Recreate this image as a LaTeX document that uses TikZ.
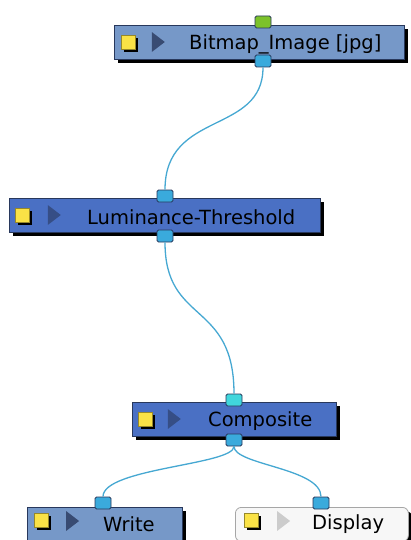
\documentclass[tikz,border=0pt]{standalone}
\usepackage{fontspec}
\setmainfont{DejaVu Sans}
\usetikzlibrary{positioning,shadows,shapes.geometric}

\definecolor{lightnode}{RGB}{118,152,200}
\definecolor{darknode}{RGB}{74,112,196}
\definecolor{nodeedge}{RGB}{40,56,92}
\definecolor{portblue}{RGB}{58,170,220}
\definecolor{portgreen}{RGB}{124,194,42}
\definecolor{portcyan}{RGB}{64,214,220}
\definecolor{wire}{RGB}{70,168,210}
\definecolor{sqyellow}{RGB}{250,226,70}

\begin{document}
\begin{tikzpicture}[x=1pt,y=-1pt,
  box/.style={rectangle,draw=nodeedge,line width=0.8pt,minimum height=34pt,inner sep=0pt,
    drop shadow={shadow xshift=4pt,shadow yshift=-4pt,fill=black,opacity=1}},
  lightbox/.style={box,fill=lightnode},
  darkbox/.style={box,fill=darknode},
  port/.style={rectangle,rounded corners=1.5pt,draw=nodeedge,line width=0.8pt,fill=portblue,
    minimum width=16pt,minimum height=12pt,inner sep=0pt},
  sq/.style={rectangle,fill=sqyellow,draw=black!40!sqyellow,line width=0.8pt,minimum size=14pt,inner sep=0pt,
    drop shadow={shadow xshift=3pt,shadow yshift=-3pt,fill=black,opacity=1}},
  tri/.style={isosceles triangle,isosceles triangle apex angle=75,minimum height=13pt,inner sep=0pt,fill=#1},
  lbl/.style={inner sep=0pt,anchor=west,font=\fontsize{19.5}{22}\selectfont},
  wireline/.style={wire,line width=1.3pt}]
\clip (0,0) rectangle (411,540);
\fill[white] (0,0) rectangle (411,540);

% Bitmap_Image
\node[lightbox,minimum width=290pt] (bitmap) at (259,42) {};
\node[sq,right=7pt of bitmap.west] (bitmapsq) {};
\node[tri=nodeedge!80!lightnode,right=38pt of bitmap.west] (bitmaptri) {};
\node[lbl] (bitmaptxt) at (189,44) {Bitmap\_Image [jpg]};
\node[port,fill=portgreen] (bitmapin) at (263,22) {};
\node[port] (bitmapout) at (263,61) {};

% Luminance-Threshold
\node[darkbox,minimum width=311pt] (lumi) at (164.5,215) {};
\node[sq,right=6pt of lumi.west] (lumisq) {};
\node[tri=nodeedge!60!darknode,right=39pt of lumi.west] (lumitri) {};
\node[lbl] (lumitxt) at (87,217) {Luminance-Threshold};
\node[port] (lumiin) at (165,196) {};
\node[port] (lumiout) at (165,236) {};

% Composite
\node[darkbox,minimum width=204pt] (comp) at (234,419) {};
\node[sq,right=6pt of comp.west] (compsq) {};
\node[tri=nodeedge!60!darknode,right=36pt of comp.west] (comptri) {};
\node[lbl] (comptxt) at (208,421) {Composite};
\node[port,fill=portcyan] (compin) at (234,400) {};
\node[port] (compout) at (234,440) {};

% Write
\node[lightbox,minimum width=155pt,anchor=north west] (write) at (27,507) {};
\node[sq] (writesq) at (41,520) {};
\node[tri=nodeedge!80!lightnode] (writetri) at (71,521) {};
\node[lbl] (writetxt) at (103,524) {Write};
\node[port] (writein) at (103,503) {};

% Display
\node[box,fill=black!3,draw=black!35,rounded corners=6pt,minimum width=173pt,anchor=north west] (disp) at (235,507) {};
\node[sq] (dispsq) at (251,520) {};
\node[tri=black!20] (disptri) at (282,521) {};
\node[lbl] (disptxt) at (312,524) {Display};
\node[port] (dispin) at (321,503) {};

% wires
\draw[wireline] (bitmapout.south) .. controls (263,135) and (165,110) .. (lumiin.north);
\draw[wireline] (lumiout.south) .. controls (165,325) and (234,300) .. (compin.north);
\draw[wireline] (compout.south) .. controls (234,465) and (103,468) .. (writein.north);
\draw[wireline] (compout.south) .. controls (234,465) and (321,468) .. (dispin.north);
\end{tikzpicture}
\end{document}
